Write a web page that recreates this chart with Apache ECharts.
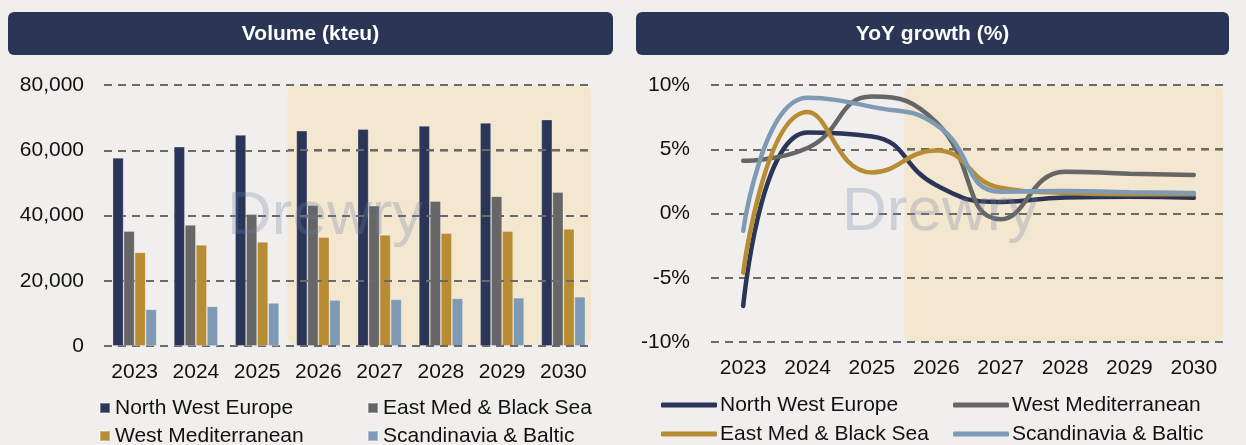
<!DOCTYPE html>
<html><head><meta charset="utf-8">
<script src="https://cdn.jsdelivr.net/npm/echarts@6/dist/echarts.min.js"></script>
<style>
html,body{margin:0;padding:0;background:#f0efed;}
#wrap{position:relative;width:1246px;height:445px;overflow:hidden;}
#left{position:absolute;left:0;top:0;width:623px;height:445px;}
#right{position:absolute;left:623px;top:0;width:623px;height:445px;}
</style>
</head><body>
<div id="wrap"><div id="left"></div><div id="right"></div></div>
<script>
// ---------- data ----------
const years = ['2023','2024','2025','2026','2027','2028','2029','2030'];
const forecastStartIndex = 3; // 2026 onward shaded

// Volume (kteu)
const volNWE  = [57700, 61100, 64700, 66000, 66500, 67500, 68400, 69400];
const volEMed = [35250, 37100, 40400, 43200, 43000, 44400, 45900, 47200];
const volWMed = [28700, 31000, 31900, 33400, 34100, 34600, 35250, 35900];
const volScan = [11250, 12150, 13200, 14100, 14300, 14600, 14800, 15100];
const volTicks = [0, 20000, 40000, 60000, 80000];

// YoY growth (%)
const yoyNWE   = [-7.2, 6.3, 6.0, 2.2, 0.9, 1.25, 1.3, 1.22];
const yoyGray  = [4.1, 5.1, 9.1, 7.1, -0.45, 3.25, 3.1, 3.0];   // legend: West Mediterranean
const yoyGold  = [-4.6, 7.9, 3.2, 4.9, 2.0, 1.6, 1.5, 1.5];     // legend: East Med & Black Sea
const yoyScan  = [-1.35, 9.0, 8.3, 6.9, 1.7, 1.75, 1.65, 1.6];
const yoyTicks = [-10, -5, 0, 5, 10];

const leftNames  = ['North West Europe','East Med & Black Sea','West Mediterranean','Scandinavia & Baltic'];
const rightNames = ['North West Europe','West Mediterranean','East Med & Black Sea','Scandinavia & Baltic'];

// ---------- style ----------
const C_NAVY = '#2b3557', C_GRAY = '#666666', C_GOLD = '#b78c33', C_BLUE = '#7f9ab5';
const SHADE = 'rgba(247,222,170,0.45)';
const GRID_COLOR = '#6a6a6a';
const FONT = '"Liberation Sans", Arial, Helvetica, sans-serif';
const TXT = '#111111';

function titleBar(text, x, w) {
  return {
    type: 'group', left: x, top: 12,
    children: [
      { type: 'rect', shape: { x: 0, y: 0, width: w, height: 43, r: 6 }, style: { fill: '#2b3556' } },
      { type: 'text', style: { text: text, x: w / 2, y: 22, align: 'center', verticalAlign: 'middle',
        fill: '#ffffff', font: 'bold 21px ' + FONT } }
    ]
  };
}
function watermark(x, y) {
  return { type: 'text', left: x, top: y, z: 100, silent: true,
    style: { text: 'Drewry', fill: 'rgba(110,130,165,0.28)', font: '62px ' + FONT } };
}
const gridLine = { show: true, lineStyle: { color: GRID_COLOR, width: 2, type: [8, 6] } };

function legendItem(name, x, y, icon, w, h, pad) {
  return { orient: 'horizontal', left: x, top: y, padding: 0, itemWidth: w, itemHeight: h, icon: icon,
    data: [name], textStyle: { color: TXT, fontSize: 21, lineHeight: 22, fontFamily: FONT, padding: [0, 0, 0, pad] } };
}

// forecast shading (index positions on a hidden value x axis), gridlines redrawn over it
function shadeSeries(ticks) {
  return {
    type: 'custom', xAxisIndex: 1, silent: true, clip: false,
    data: [[forecastStartIndex - 0.5, years.length - 0.5]],
    encode: { x: [0, 1] },
    renderItem: (params, api) => {
      const cs = params.coordSys;
      const x0 = api.coord([api.value(0), ticks[0]])[0];
      const x1 = api.coord([api.value(1), ticks[0]])[0];
      const children = [
        { type: 'rect', z2: 0, shape: { x: x0, y: cs.y + 1, width: x1 - x0 - 3, height: cs.height - 2, r: 7 },
          style: { fill: SHADE } }
      ];
      ticks.forEach(t => {
        const y = Math.round(api.coord([api.value(0), t])[1]);
        children.push({ type: 'line', z2: 50, shape: { x1: x0, y1: y, x2: cs.x + cs.width, y2: y },
          style: { stroke: GRID_COLOR, lineWidth: 2, lineDash: [8, 6], lineDashOffset: (x0 - cs.x) % 14 } });
      });
      return { type: 'group', children: children };
    }
  };
}

// ---------- left: Volume ----------
const left = echarts.init(document.getElementById('left'), null, { renderer: 'canvas' });
const barColors = [C_NAVY, C_GRAY, C_GOLD, C_BLUE];
const volSeries = [volNWE, volEMed, volWMed, volScan];
const leftOpt = {
  backgroundColor: '#f0efed',
  animation: false,
  textStyle: { fontFamily: FONT },
  graphic: [titleBar('Volume (kteu)', 8, 605), watermark(227, 186)],
  grid: { left: 104, top: 85, width: 490, height: 261 },
  xAxis: [
    { type: 'category', data: years, axisLine: { show: false }, axisTick: { show: false },
      axisLabel: { color: TXT, fontSize: 21, margin: 16, fontFamily: FONT } },
    { type: 'value', min: -0.5, max: years.length - 0.5, show: false }
  ],
  yAxis: { type: 'value', min: volTicks[0], max: volTicks[volTicks.length - 1], interval: volTicks[1] - volTicks[0],
    axisLine: { show: false }, axisTick: { show: false },
    axisLabel: { color: TXT, fontSize: 21, margin: 20, fontFamily: FONT,
      formatter: v => v.toLocaleString('en-US') },
    splitLine: gridLine },
  legend: [
    legendItem(leftNames[0], 99, 397, 'rect', 10, 10, 0),
    legendItem(leftNames[2], 99, 425, 'rect', 10, 10, 0),
    legendItem(leftNames[1], 367, 397, 'rect', 10, 10, 0),
    legendItem(leftNames[3], 367, 425, 'rect', 10, 10, 0)
  ],
  series: [shadeSeries(volTicks)].concat(volSeries.map((d, i) => ({
    name: leftNames[i], type: 'bar', data: d, barGap: '0%', barCategoryGap: '28%',
    itemStyle: { color: barColors[i], borderColor: 'rgba(255,255,255,0.35)', borderWidth: 0.8 }
  })))
};
left.setOption(leftOpt);

// ---------- right: YoY ----------
const right = echarts.init(document.getElementById('right'), null, { renderer: 'canvas' });
const lineColors = [C_NAVY, C_GRAY, C_GOLD, C_BLUE];
const yoySeries = [yoyNWE, yoyGray, yoyGold, yoyScan];
const rightOpt = {
  backgroundColor: '#f0efed',
  animation: false,
  textStyle: { fontFamily: FONT },
  graphic: [titleBar('YoY growth (%)', 13, 593), watermark(219, 182)],
  grid: { left: 88, top: 85, width: 515, height: 257 },
  xAxis: [
    { type: 'category', data: years, axisLine: { show: false }, axisTick: { show: false },
      axisLabel: { color: TXT, fontSize: 21, margin: 16, fontFamily: FONT } },
    { type: 'value', min: -0.5, max: years.length - 0.5, show: false }
  ],
  yAxis: { type: 'value', min: yoyTicks[0], max: yoyTicks[yoyTicks.length - 1], interval: yoyTicks[1] - yoyTicks[0],
    axisLine: { show: false }, axisTick: { show: false },
    axisLabel: { color: TXT, fontSize: 21, margin: 21, fontFamily: FONT, formatter: v => v + '%' },
    splitLine: gridLine },
  legend: [
    legendItem(rightNames[0], 38, 394, 'roundRect', 56, 5, -2),
    legendItem(rightNames[2], 38, 423, 'roundRect', 56, 5, -2),
    legendItem(rightNames[1], 330, 394, 'roundRect', 56, 5, -2),
    legendItem(rightNames[3], 330, 423, 'roundRect', 56, 5, -2)
  ],
  series: [shadeSeries(yoyTicks)].concat(yoySeries.map((d, i) => ({
    name: rightNames[i], type: 'line', data: d, smooth: 0.5, showSymbol: false, symbol: 'none',
    lineStyle: { color: lineColors[i], width: 4.5, cap: 'round' }, itemStyle: { color: lineColors[i] }
  })))
};
right.setOption(rightOpt);
</script>
</body></html>
